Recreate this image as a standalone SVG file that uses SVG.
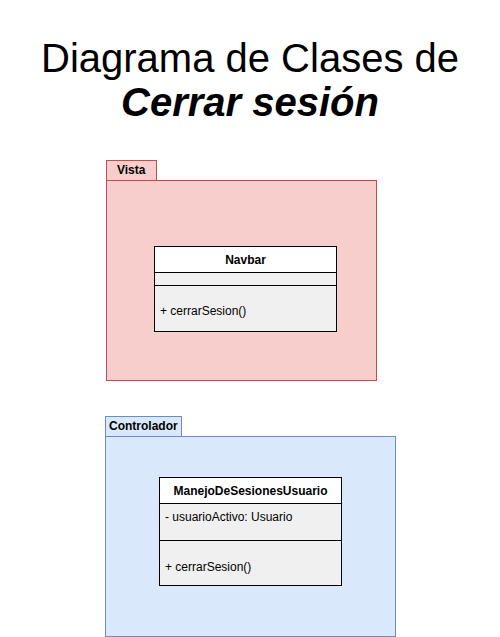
<svg xmlns="http://www.w3.org/2000/svg" width="500" height="637" viewBox="0 0 500 637">
<style>
text{font-family:"Liberation Sans",Arial,Helvetica,sans-serif;fill:#000}
.title{font-size:40px}
.tab{font-size:12px;font-weight:bold}
.hdr{font-size:12px;font-weight:bold}
.mem{font-size:12px}
.cls{fill:#f0f0f0;stroke:#000;stroke-width:1}
.head{fill:#fff;stroke:#000;stroke-width:1}
.red{fill:#f8cecc;stroke:#b85450;stroke-width:1}
.blue{fill:#dae8fc;stroke:#6c8ebf;stroke-width:1}
</style>
<rect width="500" height="637" fill="#fff"/>
<g id="title">
<text class="title" x="250" y="72" text-anchor="middle">Diagrama de Clases de</text>
<text class="title" x="250" y="116" text-anchor="middle" font-weight="bold" font-style="italic">Cerrar sesión</text>
</g>
<g id="pkg-vista">
<rect class="red" x="106.5" y="160.5" width="50" height="20"/>
<rect class="red" x="106.5" y="180.5" width="270" height="200"/>
<text class="tab" x="117" y="174">Vista</text>
</g>
<g id="cls-navbar">
<rect class="cls" x="154.5" y="246.5" width="182" height="85"/>
<rect class="head" x="154.5" y="246.5" width="182" height="26"/>
<line x1="154.5" y1="285.5" x2="336.5" y2="285.5" stroke="#000"/>
<text class="hdr" x="245.5" y="264" text-anchor="middle">Navbar</text>
<text class="mem" x="160" y="315">+ cerrarSesion()</text>
</g>
<g id="pkg-controlador">
<rect class="blue" x="105.5" y="416.5" width="76" height="20"/>
<rect class="blue" x="105.5" y="436.5" width="290" height="200"/>
<text class="tab" x="109" y="430">Controlador</text>
</g>
<g id="cls-manejo">
<rect class="cls" x="159.5" y="477.5" width="182" height="108"/>
<rect class="head" x="159.5" y="477.5" width="182" height="26"/>
<line x1="159.5" y1="540.5" x2="341.5" y2="540.5" stroke="#000"/>
<text class="hdr" x="250.5" y="495" text-anchor="middle">ManejoDeSesionesUsuario</text>
<text class="mem" x="165" y="521">- usuarioActivo: Usuario</text>
<text class="mem" x="165" y="571">+ cerrarSesion()</text>
</g>
<g id="connectors"></g>
</svg>
